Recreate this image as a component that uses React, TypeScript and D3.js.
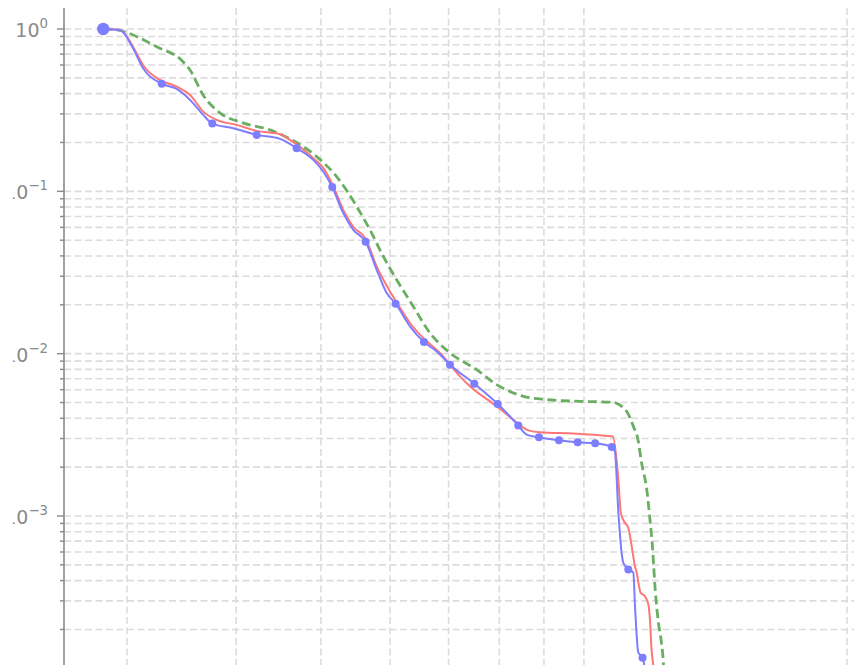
import React from "react";
import * as d3 from "d3";

// Survival-style curves on log–log axes
const blueX = [2.818, 2.945, 3.048, 3.130, 3.287, 3.420, 3.542, 3.668, 3.756, 3.969, 4.222, 4.489, 4.691, 4.901, 5.031, 5.152, 5.304, 5.446, 5.626, 5.792, 5.947, 6.089, 6.323, 6.560, 6.784, 7.026, 7.490, 7.967, 8.229, 8.411, 8.599, 8.882, 9.363, 9.836, 10.30, 10.76, 10.85, 10.95, 11.05, 11.09, 11.24, 11.39, 11.44, 11.54, 11.67, 11.72, 11.76];
const blueY = [1.0, 0.9859, 0.7607, 0.5729, 0.4606, 0.4272, 0.3657, 0.2956, 0.2613, 0.2448, 0.2227, 0.2104, 0.1845, 0.1562, 0.1324, 0.1062, 0.07341, 0.05795, 0.04889, 0.03288, 0.02363, 0.02031, 0.01472, 0.01180, 0.01033, 0.008557, 0.006537, 0.004903, 0.004112, 0.003606, 0.003174, 0.003055, 0.002927, 0.002845, 0.002805, 0.002665, 0.002494, 0.001051, 0.0005794, 0.0005173, 0.0004686, 0.0004473, 0.0002785, 0.0001445, 0.0001341, 0.0001219, 0.00009];

const blueMarkX = [3.287, 3.756, 4.222, 4.691, 5.152, 5.626, 6.089, 6.560, 7.026, 7.490, 7.967, 8.411, 8.882, 9.363, 9.836, 10.30, 10.76, 11.24, 11.67];
const blueMarkY = [0.4606, 0.2613, 0.2227, 0.1845, 0.1062, 0.04889, 0.02031, 0.01180, 0.008557, 0.006537, 0.004903, 0.003606, 0.003055, 0.002927, 0.002845, 0.002805, 0.002665, 0.0004686, 0.0001341];
const startX = 2.818;
const startY = 1.0;

const redX = [2.818, 2.945, 3.048, 3.129, 3.272, 3.420, 3.542, 3.668, 3.799, 4.005, 4.222, 4.489, 4.609, 4.901, 5.031, 5.152, 5.304, 5.446, 5.626, 5.792, 6.089, 6.323, 6.560, 6.843, 7.213, 7.406, 7.946, 8.301, 8.599, 8.906, 9.723, 10.71, 10.79, 10.95, 11.02, 11.14, 11.24, 11.34, 11.44, 11.49, 11.61, 11.74, 11.85, 11.90, 11.95, 12.00, 12.05];
const redY = [1.0, 0.99, 0.7780, 0.6003, 0.4854, 0.4414, 0.3925, 0.3098, 0.2754, 0.2566, 0.2357, 0.2249, 0.2074, 0.1601, 0.1395, 0.1112, 0.07693, 0.0605, 0.05102, 0.03445, 0.02119, 0.01545, 0.01237, 0.01010, 0.007250, 0.006292, 0.004739, 0.003925, 0.003407, 0.003279, 0.003219, 0.003098, 0.003085, 0.001678, 0.001046, 0.0009082, 0.0008461, 0.0006519, 0.0004890, 0.0004492, 0.0003367, 0.0003210, 0.0002852, 0.0002307, 0.0001508, 0.0001219, 0.00009];

const greenX = [2.818, 2.907, 3.244, 3.477, 3.542, 3.666, 3.832, 4.072, 4.372, 4.609, 4.945, 5.212, 5.495, 5.690, 5.894, 6.105, 6.378, 6.665, 7.026, 7.538, 7.946, 8.522, 9.064, 9.896, 10.79, 11.19, 11.39, 11.53, 11.64, 11.80, 11.90, 11.98, 12.07, 12.17, 12.26, 12.33, 12.36];
const greenY = [1.0, 0.990, 0.7780, 0.6290, 0.5593, 0.3925, 0.3041, 0.2639, 0.2390, 0.2104, 0.1637, 0.1234, 0.08062, 0.05795, 0.03970, 0.02852, 0.01955, 0.01341, 0.01010, 0.007971, 0.006445, 0.005461, 0.005210, 0.005086, 0.005015, 0.004414, 0.003570, 0.002956, 0.002125, 0.001456, 0.0009516, 0.0006399, 0.000343, 0.000219, 0.0001689, 0.0001219, 0.00009];

// Axis ticks
const xGridValues = [3, 4, 5, 6, 7, 8, 9, 10, 20];
const yDecades = [1, 0.1, 0.01, 0.001];
const yDecadeExponents = ["0", "\u22121", "\u22122", "\u22123"];

const W = 854;
const H = 665;
const LEFT = 64;
const TOP = 8;

const BLUE = "#7d7dff";
const RED = "#ff7676";
const GREEN = "#6aae62";
const GRID = "#dcdcdc";
const AXIS = "#8a8a8a";

function zip(xs: number[], ys: number[]): [number, number][] {
  return xs.map((v, i) => [v, ys[i]] as [number, number]);
}

export default function App() {
  const x = d3.scaleLog().domain([3, 20]).range([127, 847]);
  const y = d3.scaleLog().domain([1, 0.001]).range([29, 516]);

  const line = d3
    .line<[number, number]>()
    .x((d) => x(d[0]))
    .y((d) => y(d[1]))
    .curve(d3.curveMonotoneX);

  const yGrid = d3
    .scaleLog()
    .domain([1e-4, 1])
    .ticks()
    .filter((v) => v <= 1.0001 && y(v) <= H + 1);

  const isDecade = (v: number) => Math.abs(Math.log10(v) - Math.round(Math.log10(v))) < 1e-6;

  return (
    <div style={{ position: "absolute", left: 0, top: 0, width: W, height: H, overflow: "hidden", background: "#fff" }}>
      <svg width={W} height={H} style={{ display: "block" }} fontFamily="'DejaVu Sans', sans-serif">
        <defs>
          <clipPath id="labelClip">
            <rect x={13} y={0} width={LEFT - 13} height={H} />
          </clipPath>
        </defs>

        {/* horizontal grid */}
        {yGrid.map((v, i) => (
          <line
            key={"hg" + i}
            x1={LEFT}
            x2={W}
            y1={y(v)}
            y2={y(v)}
            stroke={GRID}
            strokeWidth={1.6}
            strokeDasharray="7,3.5"
          />
        ))}

        {/* vertical grid */}
        {xGridValues.map((v, i) => (
          <line
            key={"vg" + i}
            x1={x(v)}
            x2={x(v)}
            y1={TOP}
            y2={H}
            stroke={GRID}
            strokeWidth={1.6}
            strokeDasharray="7,3.5"
          />
        ))}

        {/* left spine and ticks */}
        <line x1={LEFT} x2={LEFT} y1={TOP} y2={H} stroke={AXIS} strokeWidth={1.6} />
        {yGrid.map((v, i) => (
          <line
            key={"tk" + i}
            x1={isDecade(v) ? LEFT - 7 : LEFT - 4}
            x2={LEFT}
            y1={y(v)}
            y2={y(v)}
            stroke={AXIS}
            strokeWidth={1.4}
          />
        ))}

        <g clipPath="url(#labelClip)">
          {yDecades.map((v, i) => (
            <text key={"lb" + i} x={48} y={y(v) + 8} textAnchor="end" fill={AXIS} fontSize={19}>
              <tspan>10</tspan>
              <tspan dy={-9} fontSize={13.3}>
                {yDecadeExponents[i]}
              </tspan>
            </text>
          ))}
        </g>

        {/* series */}
        <path d={line(zip(greenX, greenY)) || ""} fill="none" stroke={GREEN} strokeWidth={2.8} strokeDasharray="9,4.5" />
        <path d={line(zip(redX, redY)) || ""} fill="none" stroke={RED} strokeWidth={2} />
        <path d={line(zip(blueX, blueY)) || ""} fill="none" stroke={BLUE} strokeWidth={2} />

        {blueMarkX.map((v, i) => (
          <circle key={"m" + i} cx={x(v)} cy={y(blueMarkY[i])} r={4} fill={BLUE} />
        ))}
        <circle cx={x(startX)} cy={y(startY)} r={6.2} fill={BLUE} />
      </svg>
    </div>
  );
}
